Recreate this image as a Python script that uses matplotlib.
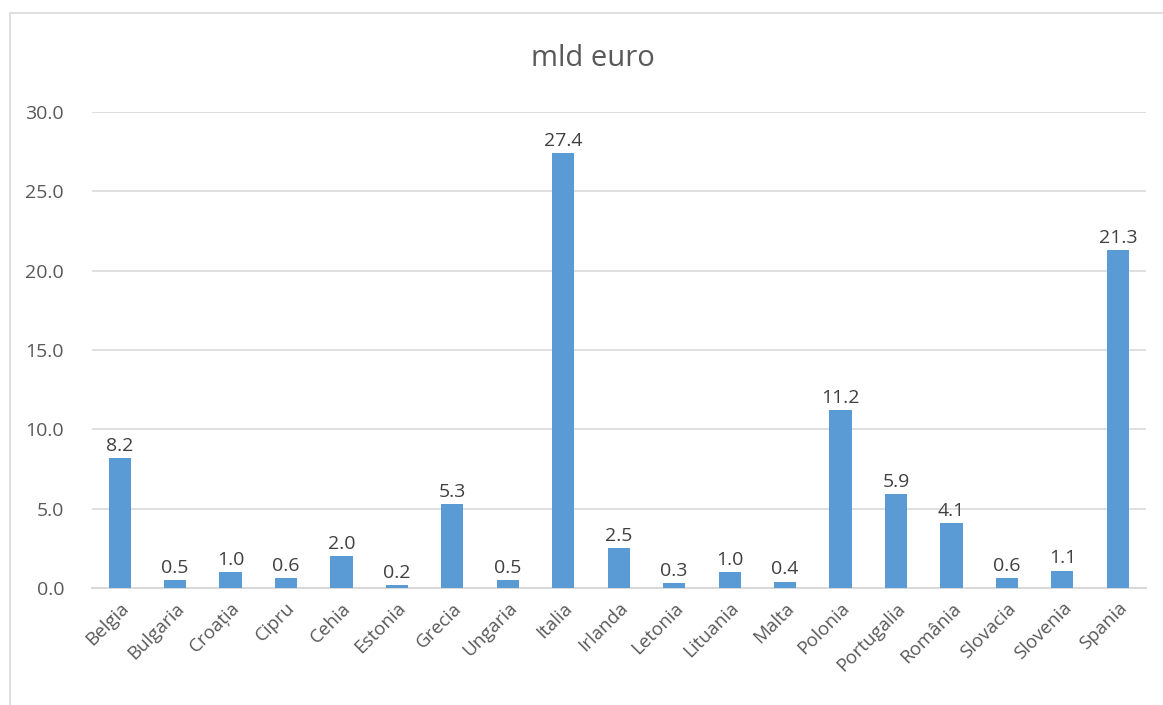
import matplotlib.pyplot as plt
from matplotlib.patches import Rectangle
from matplotlib.ticker import FormatStrFormatter

plt.rcParams["font.family"] = ["Open Sans", "DejaVu Sans"]

countries = ["Belgia", "Bulgaria", "Croația", "Cipru", "Cehia", "Estonia",
             "Grecia", "Ungaria", "Italia", "Irlanda", "Letonia", "Lituania",
             "Malta", "Polonia", "Portugalia", "România", "Slovacia",
             "Slovenia", "Spania"]
values = [8.2, 0.5, 1.0, 0.6, 2.0, 0.2, 5.3, 0.5, 27.4, 2.5, 0.3, 1.0,
          0.4, 11.2, 5.9, 4.1, 0.6, 1.1, 21.3]

BAR = "#5B9BD5"
TXT = "#595959"
GRID = "#D9D9D9"

fig = plt.figure(figsize=(11.63, 7.05), dpi=100)
ax = fig.add_axes([0.079, 0.166, 0.906, 0.675])

x = range(len(countries))
bars = ax.bar(x, values, width=0.4, color=BAR, zorder=3)
for b, v in zip(bars, values):
    ax.text(b.get_x() + b.get_width() / 2, v + 0.2, f"{v:.1f}",
            ha="center", va="bottom", fontsize=14, color="#404040")

ax.set_xlim(-0.5, len(countries) - 0.5)
ax.set_ylim(0, 30)
ax.set_yticks(range(0, 31, 5))
ax.yaxis.set_major_formatter(FormatStrFormatter("%.1f"))
ax.set_xticks(list(x))
ax.set_xticklabels(countries, rotation=45, ha="right", rotation_mode="anchor",
                   fontsize=13.5, color=TXT)
ax.tick_params(axis="y", labelsize=14, labelcolor=TXT, length=0, pad=20)
ax.tick_params(axis="x", length=0, pad=8)
ax.grid(axis="y", color=GRID, linewidth=1.2, zorder=0)
for s in ["top", "right", "left"]:
    ax.spines[s].set_visible(False)
ax.spines["bottom"].set_color(GRID)
ax.spines["bottom"].set_linewidth(1.5)

fig.text(0.51, 0.917, "mld euro", ha="center", va="center",
         fontsize=21, color=TXT)

# chart border (only top/left visible in the crop)
fig.patches.append(Rectangle((10 / 1163, -0.1), 1.2, 1.1 - 13 / 705,
                             transform=fig.transFigure, fill=False,
                             edgecolor=GRID, linewidth=1.2))

fig.savefig("out.png", dpi=100)
